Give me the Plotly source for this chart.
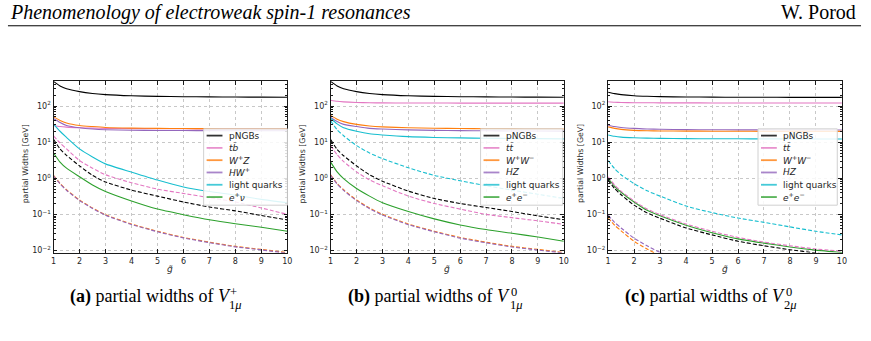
import plotly.graph_objects as go

W, H = 871, 341

# ---------------- data (GeV) ----------------
G = [1, 1.25, 1.5, 2, 2.5, 3, 4, 5, 6, 7, 8, 9, 10]
X_TICKS = [1, 2, 3, 4, 5, 6, 7, 8, 9, 10]
Y_TICKS = [0.01, 0.1, 1, 10, 100]
Y_TICKTEXT = ["10<sup>−2</sup>", "10<sup>−1</sup>", "10<sup>0</sup>", "10<sup>1</sup>", "10<sup>2</sup>"]

# panel (a): V1+
a_pngb = [480, 360, 300, 250, 222, 207, 192, 185, 181, 179, 177, 176, 175]
a_tb = [29, 27, 26, 25, 24.5, 24, 23.7, 23.5, 23.4, 23.3, 23.3, 23.2, 23.2]
a_wz = [50, 40, 34, 29, 27, 25.5, 24.5, 24, 23.8, 23.6, 23.5, 23.4, 23.3]
a_hw = [45, 35, 29, 25, 23, 22, 21.3, 21, 20.9, 20.8, 20.7, 20.6, 20.6]
a_lq = [31.6, 20, 13.5, 6.5, 3.9, 2.5, 1.48, 0.89, 0.575, 0.43, 0.34, 0.26, 0.21]
a_enu = [5.0, 2.8, 1.9, 1.1, 0.65, 0.43, 0.235, 0.14, 0.098, 0.071, 0.055, 0.044, 0.034]
a_tb_d = [15, 9.5, 6.5, 3.1, 1.9, 1.25, 0.75, 0.5, 0.38, 0.29, 0.22, 0.15, 0.10]
a_pngb_d = [12, 6.5, 4.3, 2.2, 1.2, 0.79, 0.47, 0.32, 0.22, 0.16, 0.125, 0.093, 0.07]
a_wz_d = [1.2, 0.72, 0.48, 0.25, 0.15, 0.098, 0.054, 0.034, 0.023, 0.017, 0.013, 0.0107, 0.0087]
a_hw_d = [1.17, 0.70, 0.465, 0.243, 0.146, 0.095, 0.0525, 0.033, 0.0223, 0.0165, 0.0126, 0.0104, 0.0084]

# panel (b): V1 0
b_pngb = [480, 360, 300, 250, 222, 207, 192, 185, 181, 179, 177, 176, 175]
b_tt = [145, 135, 130, 125, 123, 122, 121, 120.8, 120.6, 120.5, 120.4, 120.3, 120.2]
b_ww = [55, 43, 37, 31, 28, 26.5, 25, 24.2, 23.8, 23.5, 23.3, 23.1, 23]
b_hz = [48, 37, 31, 27, 24, 23, 21.8, 21.2, 20.8, 20.6, 20.4, 20.3, 20.2]
b_lq = [45, 32, 25, 20, 17, 15.8, 14.2, 13.5, 13.1, 12.8, 12.6, 12.5, 12.3]
b_ee = [2.8, 1.5, 0.98, 0.52, 0.32, 0.21, 0.12, 0.075, 0.051, 0.038, 0.03, 0.0235, 0.018]
b_lq_d = [39, 22, 15, 8, 5, 3.5, 1.95, 1.2, 0.85, 0.62, 0.47, 0.36, 0.275]
b_pngb_d = [11.7, 6.3, 4.2, 2.2, 1.25, 0.83, 0.44, 0.275, 0.2, 0.155, 0.12, 0.091, 0.071]
b_tt_d = [8, 4.5, 2.9, 1.5, 0.9, 0.62, 0.32, 0.2, 0.14, 0.1, 0.081, 0.066, 0.053]
b_ww_d = [1.25, 0.72, 0.48, 0.25, 0.15, 0.1, 0.054, 0.034, 0.023, 0.017, 0.013, 0.0107, 0.0088]
b_hz_d = [1.2, 0.69, 0.46, 0.24, 0.144, 0.096, 0.052, 0.033, 0.022, 0.0163, 0.0125, 0.0103, 0.0085]

# panel (c): V2 0
c_pngb = [240, 220, 207, 193, 186, 182, 178, 176, 175, 174.5, 174, 173.5, 173]
c_tt = [131, 127, 125, 123.5, 123, 122.5, 122, 121.8, 121.6, 121.4, 121.2, 121.1, 121]
c_hz = [29.5, 27, 25.5, 24, 23.2, 22.7, 22.2, 22, 21.9, 21.8, 21.7, 21.6, 21.6]
c_ww = [26.5, 24, 22.5, 21.2, 20.7, 20.4, 20.2, 20.1, 20, 19.9, 19.9, 19.8, 19.8]
c_lq = [15.8, 14.5, 13.8, 13.2, 12.9, 12.7, 12.5, 12.4, 12.35, 12.3, 12.25, 12.2, 12.2]
c_ee = [1.0, 0.6, 0.41, 0.22, 0.13, 0.091, 0.05, 0.031, 0.021, 0.016, 0.0125, 0.0102, 0.0088]
c_lq_d = [3.1, 1.85, 1.25, 0.71, 0.45, 0.32, 0.17, 0.112, 0.079, 0.06, 0.045, 0.034, 0.027]
c_tt_d = [1.1, 0.65, 0.44, 0.235, 0.14, 0.098, 0.054, 0.034, 0.023, 0.017, 0.0135, 0.011, 0.0095]
c_pngb_d = [0.9, 0.52, 0.35, 0.18, 0.11, 0.078, 0.042, 0.027, 0.018, 0.0135, 0.0105, 0.0085, 0.007]
c_ww_d = [0.08, 0.05, 0.035, 0.018, 0.011, 0.0072, 0.004, 0.0026, 0.0018, 0.0013, 0.001, 0.0008, 0.00065]
c_hz_d = [0.095, 0.06, 0.042, 0.022, 0.0135, 0.0088, 0.0049, 0.0032, 0.0022, 0.0016, 0.0012, 0.00095, 0.00078]

LEG_A = ["pNGBs", "<i>tb̄</i>", "<i>W</i><sup>+</sup><i>Z</i>", "<i>HW</i><sup>+</sup>", "light quarks",
         "<i>e</i><sup>+</sup><i>ν</i>"]
LEG_BC = ["pNGBs", "<i>tt̄</i>", "<i>W</i><sup>+</sup><i>W</i><sup>−</sup>", "<i>HZ</i>", "light quarks",
          "<i>e</i><sup>+</sup><i>e</i><sup>−</sup>"]

# ---------------- styles ----------------
BLACK = "#000000"
PINK = "#e377c2"
ORANGE = "#ff7f0e"
PURPLE = "#9467bd"
CYAN = "#17becf"
GREEN = "#2ca02c"
LEG_COLORS = [BLACK, PINK, ORANGE, PURPLE, CYAN, GREEN]
DASH = "4px,2px"
SANS = "DejaVu Sans"
SERIF = "Liberation Serif"

panels = [
    [(a_pngb, BLACK, "solid"), (a_tb, PINK, "solid"), (a_wz, ORANGE, "solid"), (a_hw, PURPLE, "solid"),
     (a_lq, CYAN, "solid"), (a_enu, GREEN, "solid"), (a_tb_d, PINK, DASH), (a_pngb_d, BLACK, DASH),
     (a_wz_d, ORANGE, DASH), (a_hw_d, PURPLE, DASH)],
    [(b_pngb, BLACK, "solid"), (b_tt, PINK, "solid"), (b_ww, ORANGE, "solid"), (b_hz, PURPLE, "solid"),
     (b_lq, CYAN, "solid"), (b_ee, GREEN, "solid"), (b_lq_d, CYAN, DASH), (b_pngb_d, BLACK, DASH),
     (b_tt_d, PINK, DASH), (b_ww_d, ORANGE, DASH), (b_hz_d, PURPLE, DASH)],
    [(c_pngb, BLACK, "solid"), (c_tt, PINK, "solid"), (c_hz, PURPLE, "solid"), (c_ww, ORANGE, "solid"),
     (c_lq, CYAN, "solid"), (c_ee, GREEN, "solid"), (c_lq_d, CYAN, DASH), (c_tt_d, PINK, DASH),
     (c_pngb_d, BLACK, DASH), (c_ww_d, ORANGE, DASH), (c_hz_d, PURPLE, DASH)],
]
legends = [LEG_A, LEG_BC, LEG_BC]

# pixel layout
AX_LEFT = [51, 330.7, 610.7]
AX_RIGHT = [287, 566, 846.7]
AX_TOP, AX_BOT = 82, 255
LEG_BOX = [(202.5, 130, 287, 207), (482, 130, 565, 207), (762, 130, 842, 207)]
CAP_X = [66, 346, 626]
CAP_SCRIPT_X = [226, 509.5, 786.5]
CAP_LBL = ["a", "b", "c"]
CAP_SUP = ["+", "0", "0"]
CAP_SUB = ["1<i>μ</i>", "1<i>μ</i>", "2<i>μ</i>"]


def px(x):
    return x / W


def py(y):
    return 1 - y / H


fig = go.Figure()
annotations = []
shapes = []

for i, series in enumerate(panels):
    xa = "x" if i == 0 else f"x{i + 1}"
    ya = "y" if i == 0 else f"y{i + 1}"
    for vals, col, dash in series:
        fig.add_trace(go.Scatter(x=G, y=vals, mode="lines", line=dict(color=col, width=1.1, dash=dash,
                                                                         shape="spline", smoothing=0.6),
                                 xaxis=xa, yaxis=ya, showlegend=False, hoverinfo="skip"))
    axis_common = dict(showline=True, linecolor="#1a1a1a", linewidth=1.4, mirror="ticks", ticks="inside",
                       tickcolor="#1a1a1a", ticklen=3.5, tickwidth=0.8, showgrid=True, gridcolor="#c8c8c8",
                       griddash="dot", gridwidth=0.8, zeroline=False,
                       tickfont=dict(family=SANS, size=8, color="#262626"))
    xkey = "xaxis" if i == 0 else f"xaxis{i + 1}"
    ykey = "yaxis" if i == 0 else f"yaxis{i + 1}"
    fig.update_layout({
        xkey: dict(domain=[px(AX_LEFT[i]), px(AX_RIGHT[i])], range=[1, 10], tickvals=X_TICKS,
                   anchor=ya, **axis_common),
        ykey: dict(domain=[py(AX_BOT), py(AX_TOP)], type="log", range=[-2.063, 2.685], tickvals=Y_TICKS,
                   ticktext=Y_TICKTEXT, anchor=xa,
                   minor=dict(ticks="inside", ticklen=2, tickwidth=0.6, tickcolor="#1a1a1a", showgrid=False,
                              tickvals=[m * 10 ** e for e in range(-3, 3) for m in range(2, 10)]),
                   **axis_common),
    })
    # axis titles
    cx = (AX_LEFT[i] + AX_RIGHT[i]) / 2
    annotations.append(dict(text="<i>g̃</i>", x=px(cx), y=py(271.5), xref="paper", yref="paper",
                            showarrow=False, xanchor="center", yanchor="middle",
                            font=dict(family=SANS, size=9, color="#262626")))
    annotations.append(dict(text="partial Widths [GeV]", x=px(AX_LEFT[i] - 28), y=py(165), xref="paper",
                            yref="paper", showarrow=False, textangle=-90, xanchor="center", yanchor="middle",
                            font=dict(family=SANS, size=7.8, color="#262626")))
    # legend box (drawn as decoration)
    x0, y0, x1, y1 = LEG_BOX[i]
    shapes.append(dict(type="rect", xref="paper", yref="paper", x0=px(x0), x1=px(x1), y0=py(y1), y1=py(y0),
                       line=dict(color="#d0d0d0", width=1), fillcolor="rgba(255,255,255,0.85)", layer="above"))
    for k, (lbl, col) in enumerate(zip(legends[i], LEG_COLORS)):
        ry = y0 + 6.8 + k * 12.4
        shapes.append(dict(type="line", xref="paper", yref="paper", x0=px(x0 + 3), x1=px(x0 + 19),
                           y0=py(ry), y1=py(ry), line=dict(color=col, width=1.8), layer="above",
                           opacity=0.8))
        annotations.append(dict(text=lbl, x=px(x0 + 23.5), y=py(ry), xref="paper", yref="paper",
                                showarrow=False, xanchor="left", yanchor="middle",
                                font=dict(family=SANS, size=9, color="#262626")))
    # caption
    annotations.append(dict(text=f"<b>({CAP_LBL[i]})</b> partial widths of <i>V</i>", x=px(CAP_X[i]),
                            y=py(299.5), xref="paper", yref="paper", showarrow=False, xanchor="left",
                            yanchor="middle", font=dict(family=SERIF, size=18, color="#000")))
    annotations.append(dict(text=CAP_SUP[i], x=px(CAP_SCRIPT_X[i] + 1.5), y=py(294.5), xref="paper",
                            yref="paper", showarrow=False, xanchor="left", yanchor="middle",
                            font=dict(family=SERIF, size=12.5, color="#000")))
    annotations.append(dict(text=CAP_SUB[i], x=px(CAP_SCRIPT_X[i]), y=py(308), xref="paper", yref="paper",
                            showarrow=False, xanchor="left", yanchor="middle",
                            font=dict(family=SERIF, size=12.5, color="#000")))

# page header
annotations.append(dict(text="<i>Phenomenology of electroweak spin-1 resonances</i>", x=px(5), y=py(12.5),
                        xref="paper", yref="paper", showarrow=False, xanchor="left", yanchor="middle",
                        font=dict(family=SERIF, size=20, color="#000")))
annotations.append(dict(text="W. Porod", x=px(863), y=py(12.5), xref="paper", yref="paper", showarrow=False,
                        xanchor="right", yanchor="middle", font=dict(family=SERIF, size=20, color="#000")))
shapes.append(dict(type="line", xref="paper", yref="paper", x0=px(5), x1=px(866), y0=py(26), y1=py(26),
                   line=dict(color="#000", width=1)))

fig.update_layout(width=W, height=H, margin=dict(l=0, r=0, t=0, b=0), paper_bgcolor="white",
                  plot_bgcolor="white", showlegend=False, annotations=annotations, shapes=shapes)

fig.write_html("out.html")
